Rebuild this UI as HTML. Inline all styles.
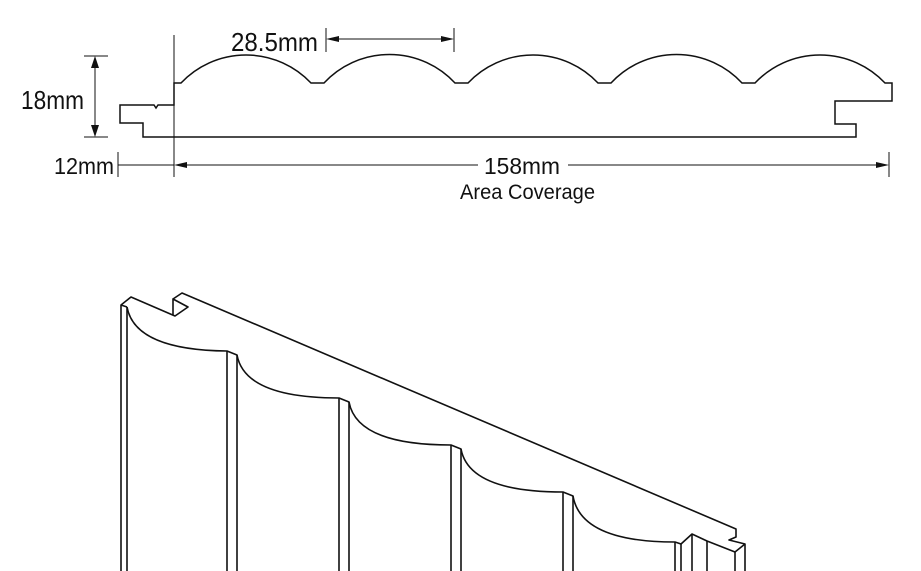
<!DOCTYPE html>
<html><head><meta charset="utf-8"><style>
html,body{margin:0;padding:0;background:#fff;}
svg{display:block;}
text{font-family:"Liberation Sans",sans-serif;fill:#111;}
</style></head><body>
<svg width="921" height="571" viewBox="0 0 921 571" xmlns="http://www.w3.org/2000/svg">
<g fill="none" stroke="#111" stroke-width="1.5">
<path d="M174,83 L181,83 A89.4,89.4 0 0 1 311,83 L324,83 A89.4,89.4 0 0 1 455,83 L468,83 A89.4,89.4 0 0 1 598,83 L611,83 A89.4,89.4 0 0 1 742,83 L755,83 A89.4,89.4 0 0 1 885,83 L892,83 L892,101 L835,101 L835,124 L856,124 L856,137 L143,137 L143,123 L120,123 L120,105 L154,105 L156,108 L158,105 L174,105 Z"/>
</g>
<g stroke="#111" stroke-width="1" fill="none">
<line x1="174" y1="35" x2="174" y2="177"/>
<line x1="84" y1="56" x2="108" y2="56"/>
<line x1="84" y1="137" x2="108" y2="137"/>
<line x1="95" y1="68" x2="95" y2="125"/>
<line x1="326" y1="28" x2="326" y2="52"/>
<line x1="454" y1="28" x2="454" y2="52"/>
<line x1="338" y1="39" x2="442" y2="39"/>
<line x1="118" y1="152" x2="118" y2="177"/>
<line x1="889" y1="152" x2="889" y2="177"/>
<line x1="118" y1="165" x2="174" y2="165"/>
<line x1="186" y1="165" x2="478" y2="165"/>
<line x1="568" y1="165" x2="877" y2="165"/>
</g>
<g fill="#111">
<path d="M95,56 L91,68 L99,68 Z"/>
<path d="M95,137 L91,125 L99,125 Z"/>
<path d="M326,39 L339,36 L339,42 Z"/>
<path d="M454,39 L441,36 L441,42 Z"/>
<path d="M174,165 L187,162 L187,168 Z"/>
<path d="M889,165 L876,162 L876,168 Z"/>
</g>
<text x="21" y="109" font-size="26" textLength="63" lengthAdjust="spacingAndGlyphs">18mm</text>
<text x="231" y="51" font-size="26" textLength="87" lengthAdjust="spacingAndGlyphs">28.5mm</text>
<text x="54" y="174" font-size="23" textLength="60" lengthAdjust="spacingAndGlyphs">12mm</text>
<text x="484" y="174" font-size="23" textLength="76" lengthAdjust="spacingAndGlyphs">158mm</text>
<text x="460" y="199" font-size="21" textLength="135" lengthAdjust="spacingAndGlyphs">Area Coverage</text>
<g fill="none" stroke="#111" stroke-width="1.6" stroke-linejoin="round">
<path d="M121,571 L121,305 L131,297 L175,316 L188,307 L173,299 L173,315"/>
<path d="M173,299 L182,293 L736,529 L736,537 L729,540 L745,544 L745,571"/>
<line x1="127" y1="571" x2="127" y2="307"/>
<line x1="121" y1="305" x2="127" y2="307"/>
<path d="M127,307 Q135,350 227,351 L237,355 Q245,398 339,398 L349,402 Q357,445 451,445 L461,449 Q469,492 563,492 L573,496 Q581,542 675,542 L681,544 L692,534 L707,541 L735,552 L745,544"/>
<line x1="227" y1="351" x2="227" y2="571"/>
<line x1="237" y1="355" x2="237" y2="571"/>
<line x1="339" y1="398" x2="339" y2="571"/>
<line x1="349" y1="402" x2="349" y2="571"/>
<line x1="451" y1="445" x2="451" y2="571"/>
<line x1="461" y1="449" x2="461" y2="571"/>
<line x1="563" y1="492" x2="563" y2="571"/>
<line x1="573" y1="496" x2="573" y2="571"/>
<line x1="675" y1="542" x2="675" y2="571"/>
<line x1="681" y1="544" x2="681" y2="571"/>
<line x1="692" y1="534" x2="692" y2="571"/>
<line x1="707" y1="541" x2="707" y2="571"/>
<line x1="735" y1="552" x2="735" y2="571"/>
</g>
</svg>
</body></html>
